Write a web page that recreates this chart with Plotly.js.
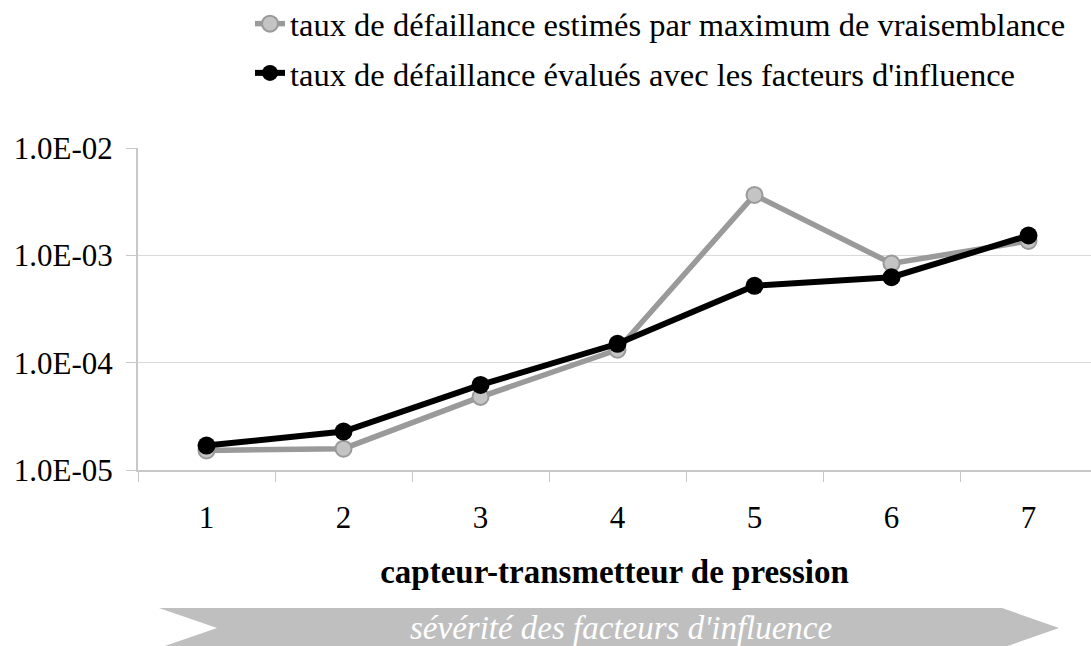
<!DOCTYPE html>
<html>
<head>
<meta charset="utf-8">
<script src="https://cdn.plot.ly/plotly-3.0.1.min.js"></script>
<style>html,body{margin:0;padding:0;background:#fff;}#chart{width:1091px;height:646px;}</style>
</head>
<body>
<div id="chart"></div>
<script>
// Data
const categories = ['1', '2', '3', '4', '5', '6', '7'];
const tauxMaxVraisemblance = [1.52e-5, 1.58e-5, 4.8e-5, 1.32e-4, 3.65e-3, 8.4e-4, 1.36e-3];
const tauxFacteursInfluence = [1.69e-5, 2.28e-5, 6.2e-5, 1.5e-4, 5.2e-4, 6.25e-4, 1.53e-3];
const seriesNames = [
  "taux de défaillance estimés par maximum de vraisemblance",
  "taux de défaillance évalués avec les facteurs d'influence"
];
const yTickVals = [1e-5, 1e-4, 1e-3, 1e-2];
const yTickText = ['1.0E-05', '1.0E-04', '1.0E-03', '1.0E-02'];
const xTitle = 'capteur-transmetteur de pression';
const arrowText = "sévérité des facteurs d'influence";

const W = 1091, H = 646;
const M = {l: 138, r: 0, t: 148, b: 176, autoexpand: false};
const pw = W - M.l - M.r, ph = H - M.t - M.b;
const px = v => (v - M.l) / pw;
const py = v => (H - M.b - v) / ph;

const FONT = 'Liberation Serif, Times New Roman, serif';

const traces = [
  {
    x: categories, y: tauxMaxVraisemblance, name: seriesNames[0],
    type: 'scatter', mode: 'lines+markers', legendgroup: 'a',
    line: {color: '#9a9a9a', width: 5.5},
    marker: {size: 16, color: '#c4c4c4', line: {color: '#9a9a9a', width: 2}}
  },
  {
    x: categories, y: tauxFacteursInfluence, name: seriesNames[1],
    type: 'scatter', mode: 'lines+markers', legendgroup: 'b',
    line: {color: '#000000', width: 6},
    marker: {size: 18, color: '#000000'}
  }
];

const arrowPts = [[159,608],[1002,608],[1059,628],[1002,648],[159,648],[217,628]];
const arrowPath = 'M' + arrowPts.map(p => px(p[0]) + ',' + py(p[1])).join(' L') + ' Z';

const layout = {
  width: W, height: H,
  margin: M,
  paper_bgcolor: '#ffffff', plot_bgcolor: '#ffffff',
  font: {family: FONT, size: 31, color: '#000'},
  showlegend: true,
  legend: {
    x: px(250), y: py(-4), xanchor: 'left', yanchor: 'top',
    traceorder: 'grouped', tracegroupgap: 4,
    font: {family: FONT, size: 32.5, color: '#000'},
    bgcolor: 'rgba(0,0,0,0)', borderwidth: 0
  },
  xaxis: {
    type: 'category', automargin: false,
    range: [-0.5, (W - M.l) / 137 - 0.5],
    tickson: 'boundaries',
    ticks: 'outside', ticklen: 10, tickwidth: 1, tickcolor: '#c8c8c8',
    showline: true, linecolor: '#c8c8c8', linewidth: 2,
    showgrid: false, zeroline: false,
    tickfont: {family: FONT, size: 31, color: '#000'},
    ticklabelstandoff: 19,
    title: {text: xTitle, font: {family: FONT, size: 33, color: '#000', weight: 'bold'}, standoff: 26}
  },
  yaxis: {
    type: 'log', range: [-5, -2], automargin: false,
    tickvals: yTickVals, ticktext: yTickText,
    ticks: 'outside', ticklen: 10, tickwidth: 1, tickcolor: '#c8c8c8',
    showline: true, linecolor: '#c8c8c8', linewidth: 2,
    showgrid: true, gridcolor: '#d9d9d9', gridwidth: 1,
    zeroline: false,
    tickfont: {family: FONT, size: 31, color: '#000'},
    ticklabelstandoff: 7
  },
  shapes: [
    {type: 'path', xref: 'paper', yref: 'paper', path: arrowPath,
     fillcolor: '#bfbfbf', line: {width: 0}, layer: 'below'}
  ],
  annotations: [
    {xref: 'paper', yref: 'paper', x: px(621), y: py(628), xanchor: 'center', yanchor: 'middle',
     text: '<i>' + arrowText + '</i>', showarrow: false,
     font: {family: FONT, size: 33, color: '#ffffff'}}
  ]
};

Plotly.newPlot('chart', traces, layout, {displayModeBar: false, staticPlot: true});
</script>
</body>
</html>
